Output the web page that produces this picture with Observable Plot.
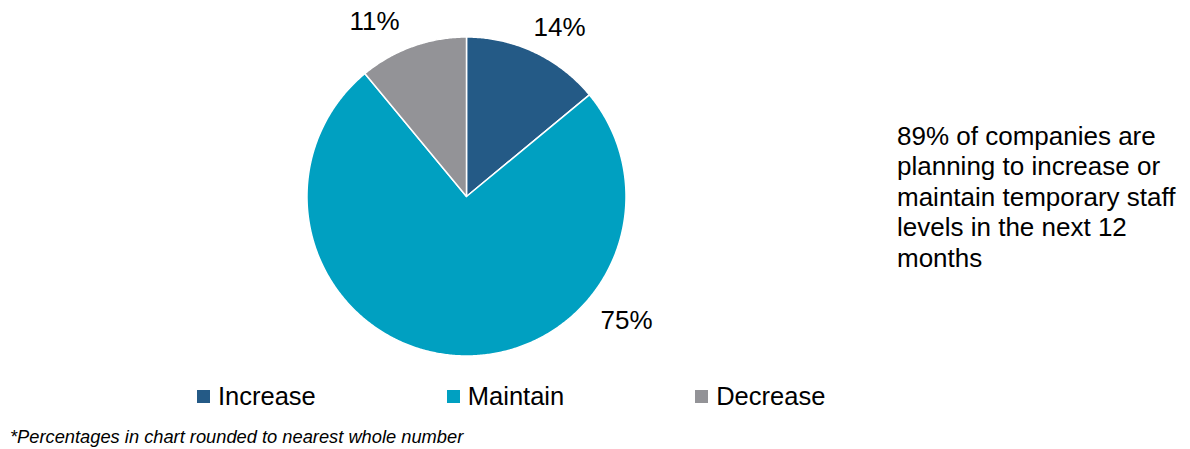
<!DOCTYPE html>
<html>
<head>
<meta charset="utf-8">
<script src="https://cdn.jsdelivr.net/npm/d3@7"></script>
<script src="https://cdn.jsdelivr.net/npm/@observablehq/plot@0.6"></script>
<style>
  html, body { margin: 0; padding: 0; background: #fff; }
  body { font-family: Arial, "Liberation Sans", sans-serif; color: #000; }
  #wrap { position: relative; width: 1190px; height: 449px; overflow: hidden; }
  #chart { position: absolute; left: 0; top: 0; }
  #note { position: absolute; left: 897px; top: 121px; font-size: 26px; line-height: 30.4px; width: 290px; }
  #legend { position: absolute; left: 197px; top: 381px; display: flex; gap: 131px; font-size: 25.5px; line-height: 30px; }
  #legend .item { display: flex; align-items: center; }
  #legend .sw { width: 13px; height: 13px; margin-right: 8px; }
  #caption { position: absolute; left: 10px; top: 426px; font-size: 18.3px; font-style: italic; line-height: 22px; }
</style>
</head>
<body>
<div id="wrap">
  <div id="chart"></div>
  <div id="note">89% of companies are planning to increase or maintain temporary staff levels in the next 12 months</div>
  <div id="legend"></div>
  <div id="caption">*Percentages in chart rounded to nearest whole number</div>
</div>
<script>
// ---- data ----
const categories = ["Increase", "Maintain", "Decrease"];
const values = [14, 75, 11];
const labels = ["14%", "75%", "11%"];
const colors = ["#245a86", "#00a0c1", "#939397"];

// ---- layout (not data) ----
const labelTurn = [0.080, 0.355, 0.923];   // label anchor angle, fraction of a turn from 12 o'clock
const labelRadius = [1.21, 1.27, 1.24];    // in pie radii
const cx = 466, cy = 196, R = 159.5;

const pie = d3.pie().sort(null).value(d => d.value)(
  categories.map((c, i) => ({category: c, value: values[i]}))
);

// Polygon outline of each slice in unit-circle coordinates (y up)
const slicePts = [];
pie.forEach(p => {
  const c = p.data.category;
  slicePts.push({category: c, x: 0, y: 0});
  const steps = Math.max(2, Math.ceil((p.endAngle - p.startAngle) / (Math.PI / 360)));
  for (let k = 0; k <= steps; k++) {
    const a = p.startAngle + (p.endAngle - p.startAngle) * k / steps;
    slicePts.push({category: c, x: Math.sin(a), y: Math.cos(a)});
  }
  slicePts.push({category: c, x: 0, y: 0});
});

const labelData = categories.map((c, i) => {
  const a = labelTurn[i] * 2 * Math.PI;
  return {category: c, text: labels[i], x: labelRadius[i] * Math.sin(a), y: labelRadius[i] * Math.cos(a)};
});

const chart = Plot.plot({
  width: 1190,
  height: 380,
  margin: 0,
  style: {fontFamily: 'Arial, "Liberation Sans", sans-serif', background: "transparent"},
  x: {domain: [-1, 1], range: [cx - R, cx + R], axis: null},
  y: {domain: [-1, 1], range: [cy + R, cy - R], axis: null},
  color: {domain: categories, range: colors},
  marks: [
    Plot.line(slicePts, {x: "x", y: "y", z: "category", fill: "category", stroke: "white", strokeWidth: 1.5, strokeLinejoin: "round", curve: "linear"}),
    Plot.text(labelData, {x: "x", y: "y", text: "text", fontSize: 26, fill: "#000"})
  ]
});
document.getElementById("chart").appendChild(chart);

const legend = document.getElementById("legend");
categories.forEach((c, i) => {
  const item = document.createElement("div");
  item.className = "item";
  const sw = document.createElement("span");
  sw.className = "sw";
  sw.style.background = colors[i];
  const t = document.createElement("span");
  t.textContent = c;
  item.appendChild(sw);
  item.appendChild(t);
  legend.appendChild(item);
});
</script>
</body>
</html>
